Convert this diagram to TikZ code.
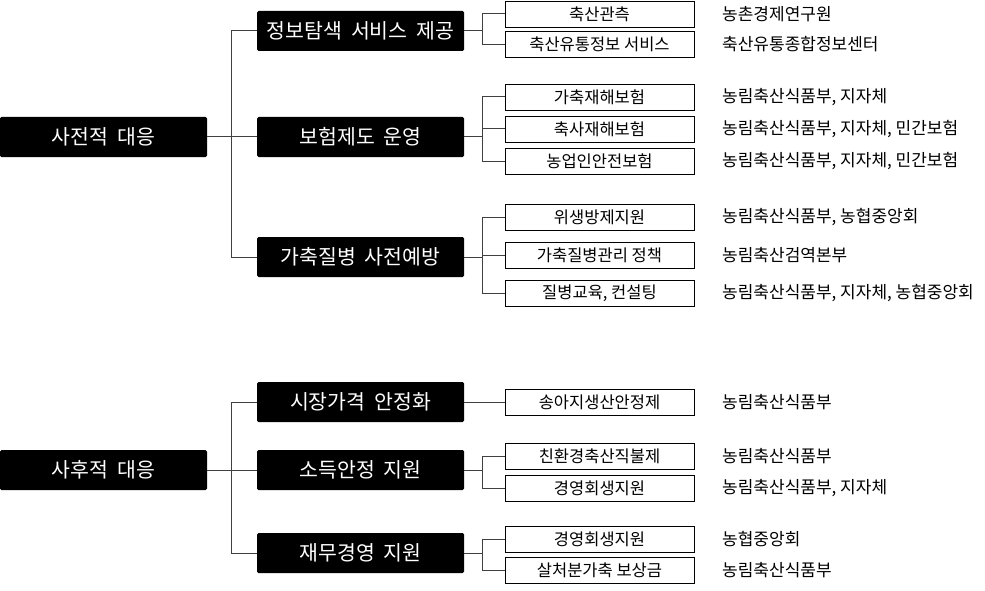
\documentclass[tikz,border=0pt]{standalone}
\usepackage{fontspec}
\setmainfont{Noto Sans CJK KR}
\newfontfamily\boxfont[WordSpace=1.9]{Noto Sans CJK KR}

\tikzset{
  rootbox/.style={fill=black, text=white, minimum width=207pt, minimum height=40pt,
    inner sep=0pt, rounded corners=1.5pt, font=\boxfont\fontsize{20.5}{24}\selectfont},
  groupbox/.style={rootbox},
  itembox/.style={draw=black, fill=white, minimum width=189pt, minimum height=26pt,
    inner sep=0pt, line width=0.9pt, font=\fontsize{16.5}{19}\selectfont},
  agency/.style={anchor=west, inner sep=0pt, font=\fontsize{17}{20}\selectfont},
  link/.style={draw=black!75, line width=1pt},
}

\begin{document}
\begin{tikzpicture}[x=1pt,y=-1pt]
\useasboundingbox (0,0) rectangle (985,591);

% 사전적 대응
\node[rootbox] (pre) at (103.5,137) {사전적 대응};
\node[groupbox] (info) at (360.5,31) {정보탐색 서비스 제공};
\node[groupbox] (insur) at (360.5,137) {보험제도 운영};
\node[groupbox] (prev) at (360.5,257) {가축질병 사전예방};

\node[itembox] (i1) at (599.5,14) {축산관측};
\node[itembox] (i2) at (599.5,44.5) {축산유통정보 서비스};
\node[itembox] (i3) at (599.5,97) {가축재해보험};
\node[itembox] (i4) at (599.5,129) {축사재해보험};
\node[itembox] (i5) at (599.5,161) {농업인안전보험};
\node[itembox] (i6) at (599.5,217) {위생방제지원};
\node[itembox] (i7) at (599.5,255) {가축질병관리 정책};
\node[itembox] (i8) at (599.5,293) {질병교육, 컨설팅};

\node[agency] (a1) at (722,14) {농촌경제연구원};
\node[agency] (a2) at (722,44.5) {축산유통종합정보센터};
\node[agency] (a3) at (722,97) {농림축산식품부, 지자체};
\node[agency] (a4) at (722,129) {농림축산식품부, 지자체, 민간보험};
\node[agency] (a5) at (722,161) {농림축산식품부, 지자체, 민간보험};
\node[agency] (a6) at (722,217) {농림축산식품부, 농협중앙회};
\node[agency] (a7) at (722,255) {농림축산검역본부};
\node[agency] (a8) at (722,293) {농림축산식품부, 지자체, 농협중앙회};

% 사후적 대응
\node[rootbox] (post) at (103.5,470) {사후적 대응};
\node[groupbox] (price) at (360.5,402) {시장가격 안정화};
\node[groupbox] (income) at (360.5,470) {소득안정 지원};
\node[groupbox] (finance) at (360.5,553) {재무경영 지원};

\node[itembox] (j1) at (599.5,402) {송아지생산안정제};
\node[itembox] (j2) at (599.5,456) {친환경축산직불제};
\node[itembox] (j3) at (599.5,488) {경영회생지원};
\node[itembox] (j4) at (599.5,539.5) {경영회생지원};
\node[itembox] (j5) at (599.5,570.5) {살처분가축 보상금};

\node[agency] (b1) at (722,402) {농림축산식품부};
\node[agency] (b2) at (722,456) {농림축산식품부};
\node[agency] (b3) at (722,488) {농림축산식품부, 지자체};
\node[agency] (b4) at (722,539.5) {농협중앙회};
\node[agency] (b5) at (722,570.5) {농림축산식품부};

% root to groups
\draw[link] (pre.east) -- (insur.west);
\draw[link] (info.west) -- ++(-25,0) |- (prev.west);
\draw[link] (post.east) -- (income.west);
\draw[link] (price.west) -- ++(-25,0) |- (finance.west);

% groups to items
\draw[link] (info.east) -- ++(19,0);
\draw[link] (i1.west) -- ++(-22,0) |- (i2.west);
\draw[link] (insur.east) -- ++(19,0);
\draw[link] (i3.west) -- ++(-22,0) |- (i5.west);
\draw[link] (i4.west) -- ++(-22,0);
\draw[link] (prev.east) -- ++(19,0);
\draw[link] (i6.west) -- ++(-22,0) |- (i8.west);
\draw[link] (i7.west) -- ++(-22,0);

\draw[link] (price.east) -- (j1.west);
\draw[link] (income.east) -- ++(19,0);
\draw[link] (j2.west) -- ++(-22,0) |- (j3.west);
\draw[link] (finance.east) -- ++(19,0);
\draw[link] (j4.west) -- ++(-22,0) |- (j5.west);
\end{tikzpicture}
\end{document}
